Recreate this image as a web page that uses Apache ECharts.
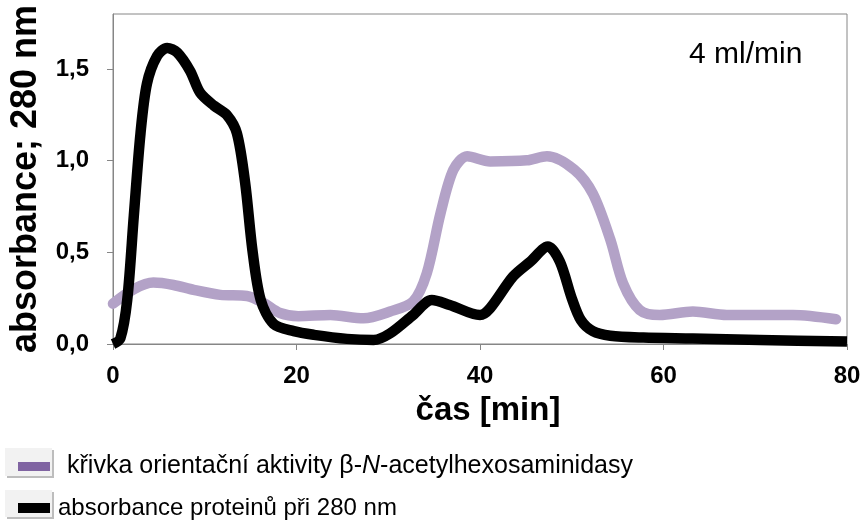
<!DOCTYPE html>
<html>
<head>
<meta charset="utf-8">
<script src="https://cdn.jsdelivr.net/npm/echarts@6/dist/echarts.min.js"></script>
<style>
  html, body { margin: 0; padding: 0; background: #fff; }
  #chart { width: 864px; height: 521px; }
</style>
</head>
<body>
<div id="chart"></div>
<script>
// orientační aktivita (fialová křivka)
const activityTime = [0, 2.3, 4.4, 6.6, 8.8, 11.7, 14.6, 16.4, 18.2, 20.2, 23.7, 27.3, 30.2, 32.7, 34.2, 35.7, 37.1, 38.6, 41.1, 45.1, 47.3, 50.3, 52.3, 54.2, 55.6, 57.4, 59.6, 63.2, 66.9, 74.1, 78.8];
const activityValue = [0.22, 0.3, 0.335, 0.322, 0.295, 0.268, 0.262, 0.224, 0.169, 0.152, 0.158, 0.14, 0.177, 0.231, 0.386, 0.714, 0.95, 1.024, 0.996, 1.002, 1.024, 0.95, 0.82, 0.57, 0.33, 0.186, 0.158, 0.177, 0.158, 0.158, 0.135];

// absorbance proteinů při 280 nm (černá křivka)
const proteinTime = [0, 0.8, 1.55, 2.27, 3.0, 3.7, 4.8, 5.9, 7.0, 8.4, 9.5, 11.0, 12.4, 13.5, 14.4, 15.2, 16.1, 17.5, 19.7, 21.9, 25.5, 28.4, 30.2, 32.7, 34.75, 36.7, 40, 41.1, 43.6, 45.5, 47.4, 48.7, 50.0, 51.0, 52.3, 54.2, 57.8, 63.2, 70.5, 80];
const proteinValue = [0, 0.03, 0.24, 0.7, 1.15, 1.42, 1.57, 1.615, 1.59, 1.49, 1.37, 1.3, 1.25, 1.15, 0.88, 0.51, 0.24, 0.11, 0.07, 0.05, 0.028, 0.022, 0.058, 0.158, 0.24, 0.213, 0.158, 0.195, 0.368, 0.45, 0.532, 0.45, 0.25, 0.13, 0.07, 0.045, 0.035, 0.03, 0.022, 0.013];

const xTicks = [0, 20, 40, 60, 80];
const yTicks = [0, 0.5, 1.0, 1.5];

const activityName = 'křivka orientační aktivity β-N-acetylhexosaminidasy';
const proteinName = 'absorbance proteinů při 280 nm';

const font = "'Liberation Sans', Arial, sans-serif";
const axisGray = '#868686';

function pairs(xs, ys) {
  return xs.map((x, i) => [x, ys[i]]);
}

const chart = echarts.init(document.getElementById('chart'));
chart.setOption({
  animation: false,
  title: {
    text: '4 ml/min',
    left: 684,
    top: 35,
    textStyle: { fontFamily: font, fontSize: 30, fontWeight: 'normal', color: '#000' }
  },
  grid: {
    left: 112.5,
    right: 17,
    top: 14,
    bottom: 177,
    show: true,
    borderColor: axisGray,
    borderWidth: 1
  },
  graphic: [
    { type: 'rect', z: 0, shape: { x: 5, y: 448, width: 47, height: 28 },
      style: { fill: '#f2f2f2', shadowColor: '#bdbdbd', shadowOffsetX: 2, shadowOffsetY: 2 } },
    { type: 'rect', z: 0, shape: { x: 5, y: 490, width: 47, height: 27 },
      style: { fill: '#f2f2f2', shadowColor: '#bdbdbd', shadowOffsetX: 2, shadowOffsetY: 2 } }
  ],
  legend: [
    {
      left: 13, top: 449,
      icon: 'rect', itemWidth: 32, itemHeight: 9,
      data: [{ name: activityName, itemStyle: { color: '#8064a2' } }],
      formatter: () => '{n|křivka orientační aktivity β-}{i|N}{n|-acetylhexosaminidasy}',
      textStyle: {
        padding: [0, 0, 0, 12],
        rich: {
          n: { fontFamily: font, fontSize: 25, color: '#000' },
          i: { fontFamily: font, fontSize: 25, fontStyle: 'italic', color: '#000' }
        }
      }
    },
    {
      left: 13, top: 491,
      icon: 'rect', itemWidth: 32, itemHeight: 10,
      data: [{ name: proteinName, itemStyle: { color: '#000' } }],
      textStyle: { fontFamily: font, fontSize: 24, color: '#000', padding: [0, 0, 0, 3] }
    }
  ],
  xAxis: {
    type: 'value',
    min: xTicks[0],
    max: xTicks[xTicks.length - 1],
    interval: 20,
    name: 'čas [min]',
    nameLocation: 'middle',
    nameGap: 50,
    nameTextStyle: { fontFamily: font, fontSize: 33, fontWeight: 'bold', color: '#000', padding: [0, 0, 0, 16] },
    axisLine: { lineStyle: { color: axisGray, width: 1 } },
    axisTick: { show: true, inside: false, length: 6, lineStyle: { color: axisGray } },
    axisLabel: { fontFamily: font, fontSize: 24, fontWeight: 'bold', color: '#000', margin: 20 },
    splitLine: { show: false }
  },
  yAxis: {
    type: 'value',
    min: yTicks[0],
    max: 1.8,
    interval: 0.5,
    name: 'absorbance; 280 nm',
    nameLocation: 'middle',
    nameGap: 69,
    nameTextStyle: { fontFamily: font, fontSize: 36, fontWeight: 'bold', color: '#000' },
    axisLine: { show: true, lineStyle: { color: axisGray, width: 1 } },
    axisTick: { show: true, inside: false, length: 6, lineStyle: { color: axisGray } },
    axisLabel: {
      fontFamily: font, fontSize: 24, fontWeight: 'bold', color: '#000', margin: 24,
      showMaxLabel: false,
      formatter: v => v.toFixed(1).replace('.', ',')
    },
    splitLine: { show: false }
  },
  series: [
    {
      name: activityName,
      type: 'line',
      data: pairs(activityTime, activityValue),
      smooth: 0.3,
      showSymbol: false,
      clip: false,
      color: '#b3a2c7',
      lineStyle: { color: '#b3a2c7', width: 10.5, cap: 'round', join: 'round' }
    },
    {
      name: proteinName,
      type: 'line',
      data: pairs(proteinTime, proteinValue),
      smooth: 0.3,
      showSymbol: false,
      clip: false,
      color: '#000',
      lineStyle: { color: '#000', width: 10.5, cap: 'butt', join: 'round' }
    }
  ]
});
</script>
</body>
</html>
